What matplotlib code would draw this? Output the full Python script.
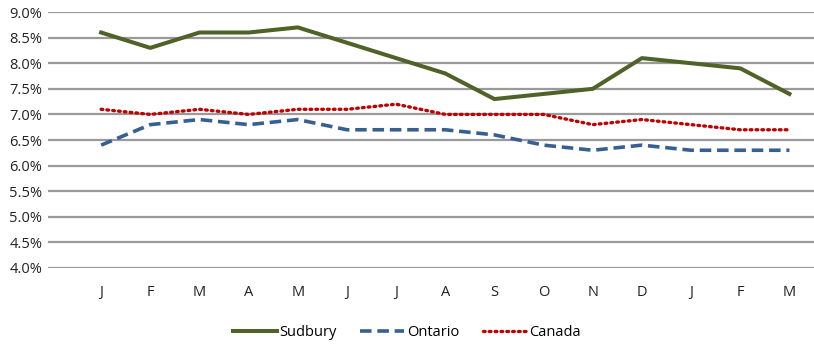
import matplotlib
matplotlib.use("Agg")
import matplotlib.pyplot as plt
import numpy as np

months = ["J", "F", "M", "A", "M", "J", "J", "A", "S", "O", "N", "D", "J", "F", "M"]
sudbury = [8.6, 8.3, 8.6, 8.6, 8.7, 8.4, 8.1, 7.8, 7.3, 7.4, 7.5, 8.1, 8.0, 7.9, 7.4]
ontario = [6.4, 6.8, 6.9, 6.8, 6.9, 6.7, 6.7, 6.7, 6.6, 6.4, 6.3, 6.4, 6.3, 6.3, 6.3]
canada = [7.1, 7.0, 7.1, 7.0, 7.1, 7.1, 7.2, 7.0, 7.0, 7.0, 6.8, 6.9, 6.8, 6.7, 6.7]
yticks = [4.0, 4.5, 5.0, 5.5, 6.0, 6.5, 7.0, 7.5, 8.0, 8.5, 9.0]

plt.rcParams['font.family'] = ['Open Sans', 'DejaVu Sans']

fig = plt.figure(figsize=(8.14, 3.44), dpi=100)
ax = fig.add_axes([0.059, 0.221, 0.941, 0.744])

x = np.arange(len(months))
ax.plot(x, sudbury, color="#4f6228", lw=2.9, solid_joinstyle="round", label="Sudbury", zorder=3)
ax.plot(x, ontario, color="#376092", lw=2.6, dashes=(3.2, 1.6), label="Ontario", zorder=3)
ax.plot(x, canada, color="#c00000", lw=2.4, dashes=(0.5, 1.25), dash_capstyle="round", label="Canada", zorder=3)

ax.set_ylim(4.0, 9.0)
ax.set_xlim(-1.08, 14.5)
ax.set_yticks(yticks)
ax.set_yticklabels([f"{v:.1f}%" for v in yticks], fontsize=10.5, color="#222222")
ax.set_xticks(x)
ax.set_xticklabels(months, fontsize=10.5, color="#222222")
ax.tick_params(axis="both", length=0)
ax.tick_params(axis="x", pad=12)
ax.tick_params(axis="y", pad=4)
ax.grid(axis="y", color="#9a9a9a", lw=1.6)
ax.set_axisbelow(True)
for s in ax.spines.values():
    s.set_visible(False)

leg = fig.legend(loc="center", bbox_to_anchor=(0.5, 0.033), ncol=3, frameon=False,
                 fontsize=10.5, handlelength=3.0, columnspacing=1.6, handletextpad=0.2)

fig.savefig("out.png", dpi=100)
